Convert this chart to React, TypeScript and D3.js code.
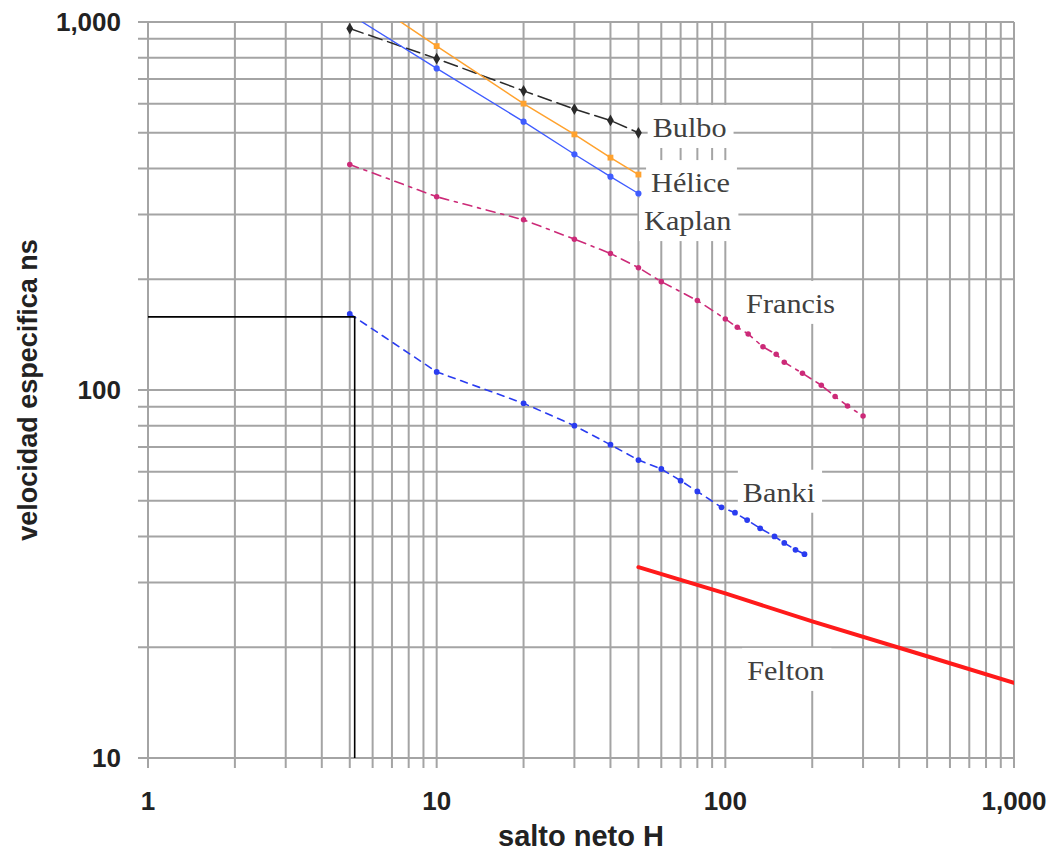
import React, { useEffect, useRef } from "react";
import * as d3 from "d3";

// ---- data ----
const xTickValues = [1, 10, 100, 1000];
const yTickValues = [10, 100, 1000];
const xTitle = "salto neto H";
const yTitle = "velocidad especifica ns";

const bulboH = [5, 10, 20, 30, 40, 50];
const bulboNs = [960, 795, 650, 580, 540, 500];

const heliceH = [5, 10, 20, 30, 40, 50];
const heliceNs = [1240, 860, 600, 495, 428, 385];

const kaplanH = [5, 10, 20, 30, 40, 50];
const kaplanNs = [1050, 748, 536, 437, 380, 342];

const francisH = [5, 10, 20, 30, 40, 50, 60, 80, 100, 110, 120, 135, 150, 160, 185, 215, 240, 265, 300];
const francisNs = [410, 335, 290, 257, 235, 215, 197, 175, 156, 148, 142, 131, 125, 119, 111, 103, 96, 90.5, 85];

const bankiH = [5, 10, 20, 30, 40, 50, 60, 70, 80, 97, 108, 119, 132, 148, 160, 175, 188];
const bankiNs = [161, 112, 92, 80, 71, 64.5, 61, 56.7, 53, 48, 46.4, 44.3, 42.1, 40, 38.4, 36.8, 35.8];

const feltonH = [50, 100, 200, 500, 1000];
const feltonNs = [33, 28, 23.5, 18.9, 16];

const guideH = [5.2];
const guideNs = [158];

const labelNames = ["Bulbo", "Hélice", "Kaplan", "Francis", "Banki", "Felton"];
const labelH = [56, 55.3, 52.3, 118, 115, 119];
const labelNs = [487, 345, 272, 162, 49.7, 16.3];

// ---- styles ----
const seriesDefs = [
  { h: feltonH, ns: feltonNs, color: "#ff1a1a", width: 4, dash: null, marker: null, msize: 0 },
  { h: bankiH, ns: bankiNs, color: "#2a3cf0", width: 1.6, dash: "7,6", marker: d3.symbolCircle, msize: 26 },
  { h: francisH, ns: francisNs, color: "#cc2a78", width: 1.6, dash: "9,6,3,6", marker: d3.symbolCircle, msize: 24 },
  { h: bulboH, ns: bulboNs, color: "#2a2a2a", width: 1.5, dash: "14,6", marker: d3.symbolDiamond, msize: 40 },
  { h: heliceH, ns: heliceNs, color: "#ffa22e", width: 1.5, dash: null, marker: d3.symbolSquare, msize: 34 },
  { h: kaplanH, ns: kaplanNs, color: "#3f5cff", width: 1.3, dash: null, marker: d3.symbolCircle, msize: 30 },
];

const W = 1049;
const H = 852;
const M = { left: 148, right: 1014, top: 22, bottom: 758 };

export default function App() {
  const ref = useRef<SVGSVGElement | null>(null);

  useEffect(() => {
    const svg = d3.select(ref.current);
    svg.selectAll("*").remove();

    const x = d3.scaleLog().domain([1, 1000]).range([M.left, M.right]);
    const y = d3.scaleLog().domain([10, 1000]).range([M.bottom, M.top]);

    svg.append("rect").attr("width", W).attr("height", H).attr("fill", "#fff");

    const defs = svg.append("defs");
    defs.append("clipPath").attr("id", "plotclip")
      .append("rect")
      .attr("x", M.left).attr("y", M.top)
      .attr("width", M.right - M.left).attr("height", M.bottom - M.top);

    // grid
    const xGrid: number[] = [];
    for (let d = 1; d <= 100; d *= 10) for (let k = 1; k <= 9; k++) xGrid.push(k * d);
    xGrid.push(1000);
    const yGrid: number[] = [];
    for (let d = 10; d <= 100; d *= 10) for (let k = 1; k <= 9; k++) yGrid.push(k * d);
    yGrid.push(1000);

    const grid = svg.append("g").attr("stroke", "#a4a4a4").attr("stroke-width", 2);
    grid.selectAll("line.v").data(xGrid).join("line")
      .attr("x1", (d) => x(d)).attr("x2", (d) => x(d))
      .attr("y1", M.top).attr("y2", M.bottom + 10);
    grid.selectAll("line.h").data(yGrid).join("line")
      .attr("class", "h")
      .attr("y1", (d) => y(d)).attr("y2", (d) => y(d))
      .attr("x1", M.left - 10).attr("x2", M.right);

    // tick labels
    const fmt = d3.format(",");
    svg.append("g").selectAll("text").data(yTickValues).join("text")
      .attr("x", 121).attr("y", (d) => y(d)).attr("dy", "0.35em")
      .attr("text-anchor", "end")
      .attr("font-family", "'Liberation Sans', Arial, sans-serif")
      .attr("font-weight", "bold").attr("font-size", 26).attr("fill", "#222")
      .text((d) => fmt(d));
    svg.append("g").selectAll("text").data(xTickValues).join("text")
      .attr("x", (d) => x(d)).attr("y", 801).attr("dy", "0.35em")
      .attr("text-anchor", "middle")
      .attr("font-family", "'Liberation Sans', Arial, sans-serif")
      .attr("font-weight", "bold").attr("font-size", 26).attr("fill", "#222")
      .text((d) => fmt(d));

    // axis titles
    svg.append("text")
      .attr("x", (M.left + M.right) / 2).attr("y", 846)
      .attr("text-anchor", "middle")
      .attr("font-family", "'Liberation Sans', Arial, sans-serif")
      .attr("font-weight", "bold").attr("font-size", 29).attr("fill", "#222")
      .text(xTitle);
    svg.append("text")
      .attr("transform", `translate(37,${(M.top + M.bottom) / 2}) rotate(-90)`)
      .attr("text-anchor", "middle")
      .attr("font-family", "'Liberation Sans', Arial, sans-serif")
      .attr("font-weight", "bold").attr("font-size", 27).attr("fill", "#222")
      .text(yTitle);

    // label boxes + labels
    const labG = svg.append("g");
    labelNames.forEach((name, i) => {
      const lx = x(labelH[i]);
      const ly = y(labelNs[i]);
      const box = labG.append("rect").attr("fill", "#fff");
      const t = labG.append("text")
        .attr("transform", `translate(${lx},${ly}) scale(1.12,1)`)
        .attr("font-family", "'Liberation Serif', 'Times New Roman', serif")
        .attr("font-size", 27).attr("fill", "#404040")
        .text(name);
      const w = (t.node() as SVGTextElement).getComputedTextLength() * 1.12;
      box.attr("x", lx - 5).attr("y", ly - 32).attr("width", w + 12).attr("height", 43);
    });

    // series
    const plot = svg.append("g").attr("clip-path", "url(#plotclip)");
    const line = d3.line<[number, number]>().x((d) => x(d[0])).y((d) => y(d[1]));
    seriesDefs.forEach((s) => {
      const pts: [number, number][] = s.h.map((h, i) => [h, s.ns[i]]);
      const p = plot.append("path").datum(pts)
        .attr("d", line).attr("fill", "none")
        .attr("stroke", s.color).attr("stroke-width", s.width)
        .attr("stroke-linejoin", "round").attr("stroke-linecap", "round");
      if (s.dash) p.attr("stroke-dasharray", s.dash);
      if (s.marker) {
        const sym = d3.symbol().type(s.marker).size(s.msize);
        plot.append("g").selectAll("path").data(pts).join("path")
          .attr("transform", (d) => `translate(${x(d[0])},${y(d[1])})`)
          .attr("d", sym()).attr("fill", s.color);
      }
    });

    // guide lines
    const gx = x(guideH[0]);
    const gy = y(guideNs[0]);
    svg.append("path")
      .attr("d", `M${M.left},${gy}H${gx}V${M.bottom}`)
      .attr("fill", "none").attr("stroke", "#000").attr("stroke-width", 1.6);
  }, []);

  return (
    <svg
      ref={ref}
      width={W}
      height={H}
      style={{ position: "absolute", left: 0, top: 0, display: "block" }}
    />
  );
}
